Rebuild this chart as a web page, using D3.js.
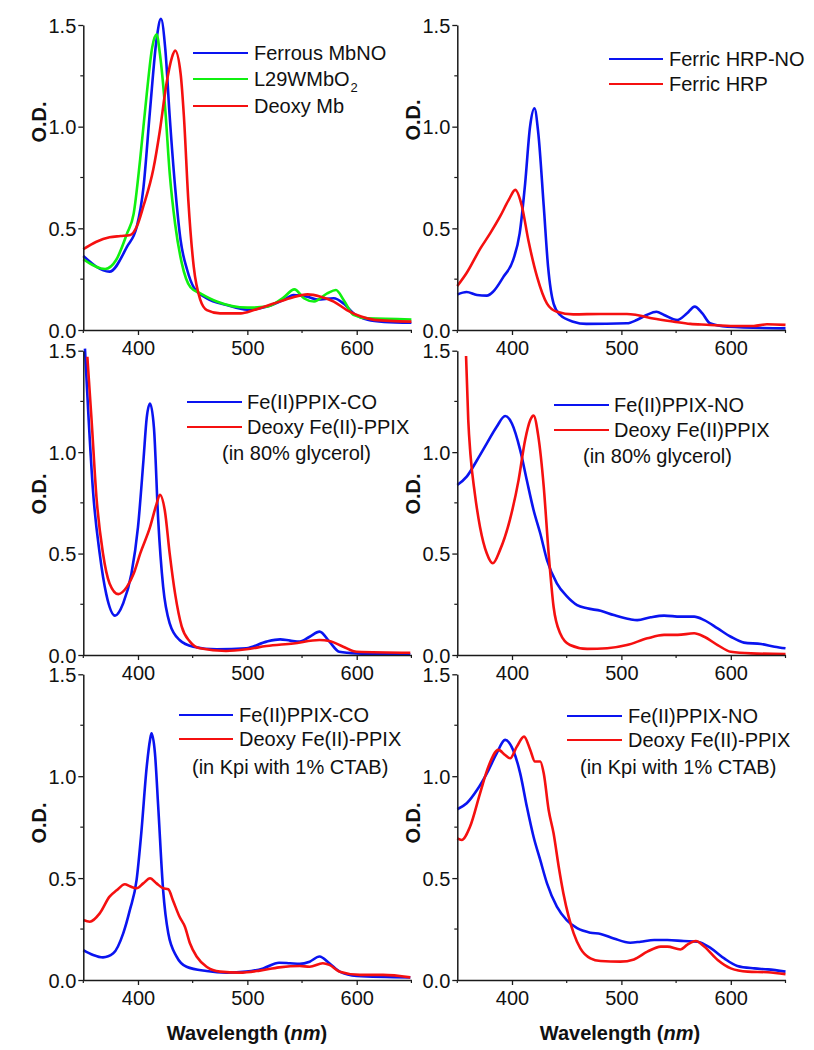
<!DOCTYPE html>
<html><head><meta charset="utf-8">
<script src="https://cdn.jsdelivr.net/npm/d3@7"></script>
<style>
body{margin:0;background:#fff;}
text{font-family:"Liberation Sans",Arial,sans-serif;}
</style></head>
<body><svg id="c" width="814" height="1050"></svg>
<script>
// ---------------- DATA (wavelength nm, O.D.) ----------------
const xTicks = [400, 500, 600];
const yTicks = [0.0, 0.5, 1.0, 1.5];
const yTickLabels = ["0.0", "0.5", "1.0", "1.5"];

// Panel 1
const mbnoWl  = [350,374,390,399,405,411,417,421,425,429,434,439,445,451,463,481,500,518,536,542,555,564,579,588,597,610,625,650];
const mbnoOD  = [0.364,0.287,0.41,0.51,0.70,1.08,1.43,1.53,1.38,1.05,0.70,0.44,0.295,0.21,0.156,0.123,0.10,0.115,0.156,0.172,0.164,0.15,0.156,0.13,0.082,0.05,0.04,0.036];
const l29Wl   = [350,370,380,390,396,402,408,413,417,420,425,429,434,440,448,457,472,500,518,533,543,552,561,573,581,588,597,610,650];
const l29OD   = [0.348,0.30,0.344,0.475,0.57,0.84,1.16,1.39,1.454,1.36,1.08,0.77,0.52,0.33,0.21,0.18,0.14,0.11,0.115,0.159,0.20,0.155,0.14,0.18,0.197,0.148,0.074,0.057,0.052];
const deoxyMbWl = [350,362,374,384,393,399,405,414,420,426,431,434,439,442,446,451,457,463,475,494,506,524,539,555,567,579,591,604,616,650];
const deoxyMbOD = [0.397,0.434,0.456,0.462,0.467,0.51,0.61,0.79,0.98,1.21,1.34,1.374,1.26,1.05,0.64,0.31,0.148,0.098,0.082,0.082,0.098,0.13,0.156,0.175,0.164,0.14,0.098,0.066,0.05,0.041];

// Panel 2
const hrpNoWl = [350,358.5,368,377,383,392,401,407,412,416.5,420.5,424,429,433,438,444,456,468,505,514,523,532,539,551,560,567,574,581,597,650];
const hrpNoOD = [0.175,0.187,0.172,0.169,0.19,0.26,0.344,0.475,0.72,1.0,1.09,0.97,0.61,0.31,0.13,0.074,0.041,0.03,0.033,0.049,0.074,0.09,0.074,0.049,0.082,0.115,0.082,0.033,0.016,0.008];
const hrpWl   = [350,358.5,371,380,389,397,403,409,415,423,432,441,456,481,505,514,529,548,563,578,603,621,633,650];
const hrpOD   = [0.216,0.28,0.40,0.475,0.557,0.64,0.689,0.61,0.44,0.26,0.13,0.09,0.077,0.079,0.079,0.074,0.057,0.041,0.03,0.026,0.02,0.02,0.028,0.025];

// Panel 3
const coGlyWl = [351.5,354.6,359,365,371,379,386.5,394,400,405,408,411,414.6,418.5,423,429,438,450.5,472,499,517.5,530,539,548,557,566,575,584,600,649];
const coGlyOD = [1.51,1.19,0.80,0.50,0.30,0.194,0.255,0.40,0.63,0.96,1.17,1.24,1.12,0.665,0.337,0.156,0.074,0.041,0.028,0.033,0.066,0.077,0.071,0.066,0.09,0.115,0.066,0.016,0.008,0.003];
const dxGlyWl = [353.7,357.6,362,368,374,382,390,396,402,411,417,420,424.6,429,434,440,447.5,456.6,480.5,499,517.5,542,566,575,587.6,600,649];
const dxGlyOD = [1.47,1.156,0.78,0.50,0.353,0.30,0.337,0.40,0.50,0.63,0.745,0.79,0.71,0.50,0.30,0.14,0.066,0.033,0.02,0.028,0.044,0.057,0.074,0.069,0.041,0.016,0.011];

// Panel 4
const noGlyWl = [350,358.6,368,377,386,393.7,400,407.5,413.6,419.7,425.8,432,441,450,459.5,468.7,481,493,508,514.5,526.8,539,554,566.5,575.7,588,600,612,627.7,640,650];
const noGlyOD = [0.838,0.879,0.96,1.043,1.125,1.178,1.14,1.01,0.86,0.715,0.60,0.468,0.353,0.29,0.246,0.23,0.218,0.197,0.176,0.172,0.186,0.194,0.189,0.189,0.172,0.131,0.09,0.061,0.054,0.041,0.033];
const dxGly2Wl = [358,360,362,366,370.8,377,382.4,389,398,406,412,416.7,419.7,424,429,433.5,438,444,453,468.7,487,505,523.7,539,551.5,566.5,575.7,588,600,618.5,650];
const dxGly2OD = [1.474,1.16,0.99,0.797,0.63,0.50,0.452,0.517,0.665,0.862,1.06,1.158,1.18,1.08,0.83,0.50,0.238,0.107,0.049,0.03,0.033,0.049,0.082,0.099,0.099,0.107,0.09,0.049,0.016,0.008,0.005];

// Panel 5
const coCtWl = [350,359,368,377.4,386.5,392.6,398.7,403,408,411,412.4,415.5,418.5,423,427.7,435.3,444.4,462.7,481,499,514.5,529,539,548,557,566,575,584.5,600,649];
const coCtOD = [0.147,0.123,0.111,0.131,0.229,0.344,0.49,0.72,1.047,1.178,1.21,1.113,0.85,0.44,0.229,0.115,0.065,0.044,0.036,0.041,0.057,0.085,0.082,0.079,0.09,0.115,0.082,0.041,0.02,0.013];
const dxCtWl = [350,356,365,374,380.5,388,392.6,398.7,404.8,411,417,423,427.7,432,438,443,447.5,453.6,462.7,475,493,511.4,529,548,557,569,575,584.5,603,624,649];
const dxCtOD = [0.294,0.286,0.327,0.409,0.44,0.47,0.46,0.45,0.474,0.499,0.474,0.45,0.445,0.39,0.31,0.26,0.18,0.115,0.065,0.041,0.036,0.046,0.062,0.069,0.065,0.082,0.074,0.041,0.025,0.025,0.013];

// Panel 6
const noCtWl = [350,358.6,368,377,386,393.7,401,407.5,413.6,419.7,425.8,432,441,450,459.5,471.7,481,493,508,517.6,530,542,557,569.6,582,594,606,621.6,633.8,650];
const noCtOD = [0.838,0.867,0.932,1.014,1.112,1.178,1.129,1.014,0.85,0.703,0.589,0.474,0.36,0.294,0.254,0.232,0.226,0.204,0.183,0.188,0.196,0.196,0.191,0.188,0.155,0.106,0.069,0.057,0.052,0.041];
const dxCt2Wl = [350,354,361.6,370.8,378.4,387.6,393.7,398.3,404.4,411,416.7,421,425.8,429,433.5,438,442.7,447,451.8,456.4,462.5,471.7,481,499,511.5,523.7,536,542,554,560,568,575.7,588,600,615.4,633.8,650];
const dxCt2OD = [0.695,0.687,0.752,0.916,1.047,1.129,1.104,1.088,1.145,1.194,1.129,1.072,1.072,1.014,0.834,0.72,0.556,0.425,0.311,0.229,0.155,0.106,0.093,0.09,0.101,0.139,0.164,0.164,0.15,0.172,0.191,0.164,0.098,0.057,0.041,0.038,0.029];

const BLUE = "#0a14f0", GREEN = "#10f010", RED = "#f51010";

const panels = [
  {col:0,row:0, series:[[mbnoWl,mbnoOD,BLUE],[l29Wl,l29OD,GREEN],[deoxyMbWl,deoxyMbOD,RED]],
   legend:{x0:193,x1:248,tx:254,ys:[53,79,106],labels:["Ferrous MbNO","L29WMbO2","Deoxy Mb"],colors:[BLUE,GREEN,RED]}, od:122},
  {col:1,row:0, series:[[hrpNoWl,hrpNoOD,BLUE],[hrpWl,hrpOD,RED]],
   legend:{x0:609,x1:663,tx:669,ys:[59,84],labels:["Ferric HRP-NO","Ferric HRP"],colors:[BLUE,RED]}, od:120},
  {col:0,row:1, series:[[coGlyWl,coGlyOD,BLUE],[dxGlyWl,dxGlyOD,RED]],
   legend:{x0:187,x1:242,tx:247,ys:[402,427],labels:["Fe(II)PPIX-CO","Deoxy Fe(II)-PPIX"],colors:[BLUE,RED],note:"(in 80% glycerol)",nx:222,ny:453}, od:494},
  {col:1,row:1, series:[[noGlyWl,noGlyOD,BLUE],[dxGly2Wl,dxGly2OD,RED]],
   legend:{x0:554,x1:609,tx:614,ys:[405,430],labels:["Fe(II)PPIX-NO","Deoxy Fe(II)PPIX"],colors:[BLUE,RED],note:"(in 80% glycerol)",nx:583,ny:456}, od:494},
  {col:0,row:2, series:[[coCtWl,coCtOD,BLUE],[dxCtWl,dxCtOD,RED]],
   legend:{x0:179,x1:233,tx:239,ys:[715,739],labels:["Fe(II)PPIX-CO","Deoxy Fe(II)-PPIX"],colors:[BLUE,RED],note:"(in Kpi with 1% CTAB)",nx:192,ny:767}, od:823},
  {col:1,row:2, series:[[noCtWl,noCtOD,BLUE],[dxCt2Wl,dxCt2OD,RED]],
   legend:{x0:567,x1:622,tx:628,ys:[716,740],labels:["Fe(II)PPIX-NO","Deoxy Fe(II)-PPIX"],colors:[BLUE,RED],note:"(in Kpi with 1% CTAB)",nx:580,ny:767}, od:823}
];

const colX = [[83.3,411.4],[457.3,785.5]];
const rowY = [[25,330],[350.7,655],[674.3,980]];
const AX = "#1a1a1a";
const svg = d3.select("#c");

panels.forEach(p => {
  const x = d3.scaleLinear().domain([350,650]).range(colX[p.col]);
  const y = d3.scaleLinear().domain([0,1.5]).range([rowY[p.row][1], rowY[p.row][0]]);
  const g = svg.append("g");

  // curves
  const line = d3.line().x(d=>x(d[0])).y(d=>y(d[1])).curve(d3.curveMonotoneX);
  p.series.forEach(([wl,od,col]) => {
    g.append("path").datum(wl.map((w,i)=>[w,od[i]]))
      .attr("d", line).attr("fill","none").attr("stroke",col)
      .attr("stroke-width",2.6).attr("stroke-linejoin","round");
  });

  // minor ticks
  const yb = rowY[p.row][1], xl = colX[p.col][0];
  g.selectAll(".mx").data([350,450,550,650]).enter().append("line")
    .attr("x1",d=>x(d)).attr("x2",d=>x(d)).attr("y1",yb).attr("y2",yb+3)
    .attr("stroke",AX).attr("stroke-width",1.2);
  g.selectAll(".my").data([0.25,0.75,1.25]).enter().append("line")
    .attr("x1",xl-3).attr("x2",xl).attr("y1",d=>y(d)).attr("y2",d=>y(d))
    .attr("stroke",AX).attr("stroke-width",1.2);

  // axes
  const xa = g.append("g").attr("transform",`translate(0,${yb})`)
    .call(d3.axisBottom(x).tickValues(xTicks).tickSize(5).tickSizeOuter(0).tickPadding(6));
  const ya = g.append("g").attr("transform",`translate(${xl},0)`)
    .call(d3.axisLeft(y).tickValues(yTicks).tickFormat((d,i)=>yTickLabels[i]).tickSize(5).tickSizeOuter(0).tickPadding(2));
  [xa,ya].forEach(a=>{
    a.select(".domain").attr("stroke",AX).attr("stroke-width",1.5);
    a.selectAll(".tick line").attr("stroke",AX).attr("stroke-width",1.3);
    a.selectAll("text").attr("font-size",20).attr("fill","#111")
      .attr("font-family","'Liberation Sans',Arial,sans-serif");
  });
  ya.selectAll("text").attr("dy","0.36em");

  // y label
  g.append("text").attr("transform",`translate(${xl-45},${p.od}) rotate(-90)`)
    .attr("text-anchor","middle").attr("dy","0.36em")
    .attr("font-size",20).attr("font-weight","bold").attr("fill","#111").text("O.D.");

  // legend
  const L = p.legend;
  L.labels.forEach((lab,i) => {
    g.append("line").attr("x1",L.x0).attr("x2",L.x1).attr("y1",L.ys[i]).attr("y2",L.ys[i])
      .attr("stroke",L.colors[i]).attr("stroke-width",2.2);
    const t = g.append("text").attr("x",L.tx).attr("y",L.ys[i]).attr("dy","0.36em")
      .attr("font-size",20).attr("fill","#111");
    if (lab === "L29WMbO2") {
      t.append("tspan").text("L29WMbO");
      t.append("tspan").attr("font-size",13).attr("dy","0.45em").attr("dx","1").text("2");
    } else t.text(lab);
  });
  if (L.note) {
    g.append("text").attr("x",L.nx).attr("y",L.ny).attr("dy","0.36em")
      .attr("font-size",20).attr("fill","#111").text(L.note);
  }

  // x title for bottom row
  if (p.row === 2) {
    const t = g.append("text").attr("x", p.col===0?247:620).attr("y",1033).attr("dy","0.36em")
      .attr("text-anchor","middle").attr("font-size",20).attr("font-weight","bold").attr("fill","#111");
    t.append("tspan").text("Wavelength (");
    t.append("tspan").attr("font-style","italic").text("nm");
    t.append("tspan").text(")");
  }
});
</script>
</body></html>
